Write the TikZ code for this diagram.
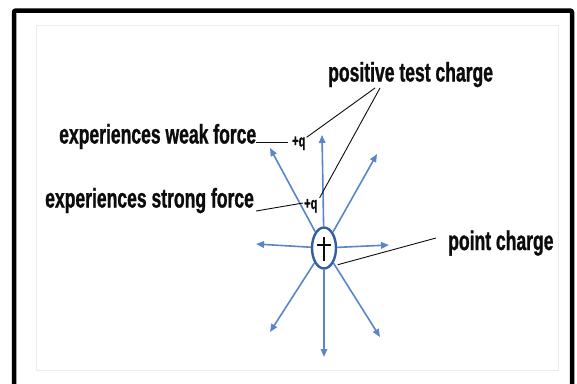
\documentclass[tikz,border=0pt]{standalone}
\usepackage{fontspec}
\newfontfamily\lblfont[FakeStretch=0.65, BoldFeatures={FakeBold=1}]{Liberation Sans}
\usetikzlibrary{arrows.meta,shapes.geometric}
\definecolor{arrowblue}{RGB}{88,134,199}
\definecolor{circblue}{RGB}{52,94,156}
\definecolor{ink}{RGB}{12,12,12}
\tikzset{
  lbl/.style={inner sep=0pt, text=ink, font=\lblfont\bfseries\fontsize{27}{27}\selectfont},
  qlbl/.style={inner sep=0pt, text=ink, font=\lblfont\bfseries\fontsize{17}{17}\selectfont},
  fieldarrow/.style={draw=arrowblue, line width=1.6pt, -{Triangle[length=8pt,width=6.5pt]}},
  leader/.style={draw=ink, line width=0.9pt},
}
\begin{document}
\begin{tikzpicture}[x=1pt,y=-1pt]
\useasboundingbox (0,0) rectangle (577,383);
% outer frame and inner panel
\draw[line width=4.5pt, rounded corners=2pt] (14,10.5) rectangle (572,400);
\draw[black!8, line width=0.8pt] (36,25) rectangle (558,370);

% point charge
\node[ellipse, draw=circblue, line width=2.4pt, fill=white, minimum width=24pt, minimum height=41pt, inner sep=0pt] (c) at (324,248) {};
\draw[ink, line width=1.3pt] ([shift={(-7,-3)}]c.center) -- ([shift={(7,-3)}]c.center);
\draw[ink, line width=1.3pt] ([shift={(0,-11)}]c.center) -- ([shift={(0,13)}]c.center);

% field arrow tips
\coordinate (tu) at (322,135);
\coordinate (td) at (324,357);
\coordinate (tl) at (256,244);
\coordinate (tr) at (389,245);
\coordinate (tul) at (270,148);
\coordinate (tur) at (377,154);
\coordinate (tll) at (270,332);
\coordinate (tlr) at (380,337);
\foreach \t in {tu,td,tl,tr,tul,tur,tll,tlr} \draw[fieldarrow] (c) -- (\t);

% labels
\node[lbl, anchor=base west] (weak) at (59,143.5) {experiences weak force};
\node[lbl, anchor=base west] (strong) at (45,207.5) {experiences strong force};
\node[lbl, anchor=base west] (ptc) at (328,81.5) {positive test charge};
\node[lbl, anchor=base west] (pc) at (448,250) {point charge};
\node[qlbl, anchor=base west] (qw) at (292,146.5) {+q};
\node[qlbl, anchor=base west] (qs) at (304,209) {+q};

% leader lines
\draw[leader] ([shift={(0,-1.5)}]weak.base east) -- ([shift={(-4,-4.5)}]qw.base west);
\draw[leader] ([shift={(2,3.5)}]strong.base east) -- ([shift={(-1,-6)}]qs.base west);
\draw[leader] ([shift={(47,6.5)}]ptc.base west) -- ([shift={(1,1)}]qw.north east);
\draw[leader] ([shift={(52,6.5)}]ptc.base west) -- ([shift={(2,-1)}]qs.north east);
\draw[leader] ([shift={(-12,-12)}]pc.base west) -- ([shift={(3,4)}]c.-50);
\end{tikzpicture}
\end{document}
